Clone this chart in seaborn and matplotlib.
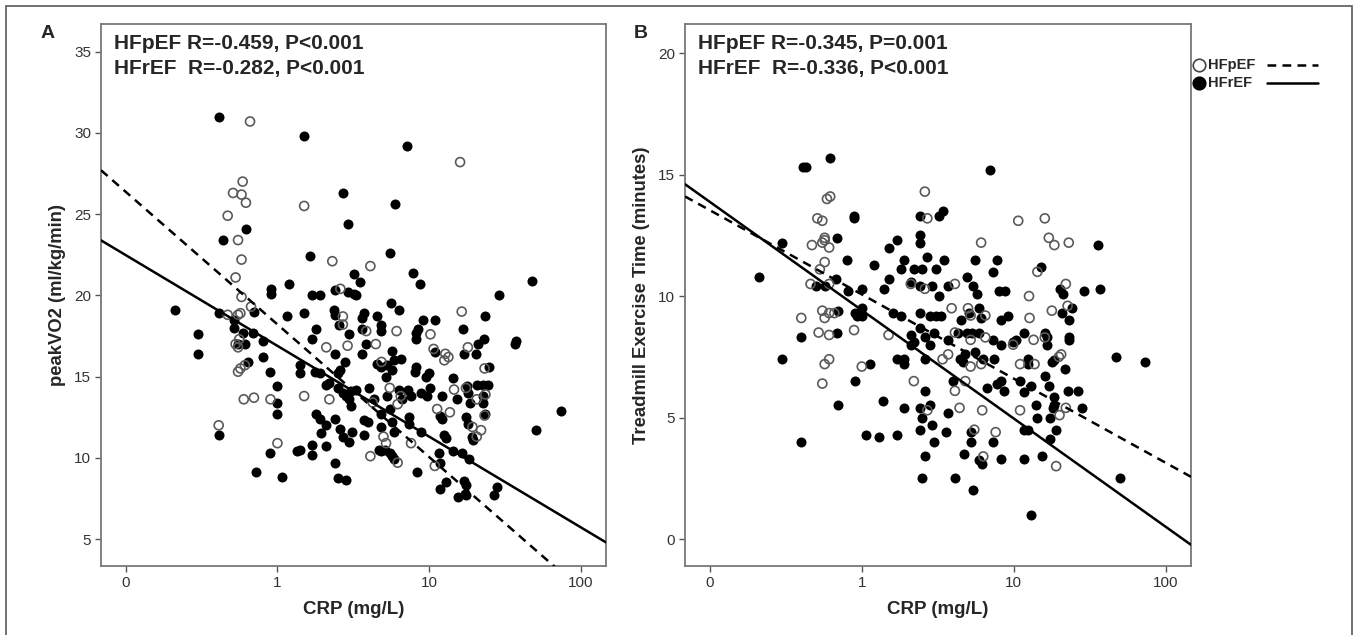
import matplotlib
matplotlib.use("Agg")
import matplotlib.pyplot as plt
from matplotlib.lines import Line2D
from matplotlib.patches import Rectangle
from matplotlib.ticker import NullLocator
import numpy as np
import pandas as pd
import seaborn as sns

# ---- panel A: peakVO2 vs CRP ----
a_ref_crp = [0.41, 1.5, 7.1, 2.7, 6.0, 2.9, 0.62, 0.44, 1.65, 5.5, 7.8, 3.2, 3.5, 8.7, 1.2, 0.91, 0.91, 1.7, 1.9, 2.4,
             2.9, 3.2, 3.3, 29, 48, 0.21, 0.41, 0.30, 0.30, 0.41, 0.52, 0.52, 0.59, 0.61, 0.69, 0.70, 0.80, 0.80, 0.90, 1.0,
             1.0, 1.0, 0.90, 0.72, 1.07, 1.15, 1.5, 1.8, 1.7, 1.4, 1.4, 1.78, 1.9, 2.1, 2.2, 1.35, 1.4, 1.7, 1.7, 1.8,
             1.9, 1.93, 2.1, 2.4, 2.4, 2.5, 2.85, 2.6, 2.7, 2.95, 2.35, 2.4, 2.55, 2.95, 2.4, 2.6, 2.5, 2.8, 2.5, 2.7,
             2.85, 2.95, 3.3, 3.05, 3.7, 3.6, 3.6, 3.85, 3.6, 4.0, 3.7, 3.95, 3.7, 4.3, 4.5, 4.85, 4.8, 4.55, 4.85, 5.2,
             5.3, 5.7, 4.85, 4.8, 4.7, 4.85, 5.1, 5.5, 5.7, 5.9, 5.25, 5.5, 5.7, 5.9, 5.7, 5.9, 6.3, 6.6, 6.5, 7.3,
             7.6, 7.4, 7.4, 8.2, 8.2, 8.5, 8.2, 8.1, 8.9, 9.7, 8.9, 8.3, 9.1, 11.0, 9.5, 10.0, 10.2, 11.0, 12.2, 11.8,
             12.2, 12.6, 13.0, 11.7, 11.8, 11.8, 13.0, 14.3, 14.3, 16.4, 15.3, 16.6, 16.9, 17.5, 18.0, 17.8, 18.0, 18.7, 18.3, 16.9,
             17.5, 17.3, 15.6, 17.5, 19.5, 19.3, 20.3, 21, 23, 23.5, 20.6, 22.8, 24.3, 22.8, 22.8, 23.5, 24.8, 26.8, 28.2, 37,
             37.5, 51, 74, 2.1, 3.05, 3.1, 0.55, 0.64, 5.6, 6.3]
a_ref_vo2 = [31.0, 29.8, 29.2, 26.3, 25.6, 24.4, 24.1, 23.4, 22.4, 22.6, 21.4, 21.3, 20.8, 20.7, 20.7, 20.4, 20.1, 20.0, 20.0, 20.3,
             20.2, 20.1, 20.0, 20.0, 20.9, 19.1, 18.9, 17.6, 16.4, 11.4, 18.5, 18.0, 17.7, 17.0, 17.7, 19.0, 17.2, 16.2, 15.3, 14.4,
             13.4, 12.7, 10.3, 9.1, 8.8, 18.7, 18.9, 17.9, 17.3, 15.7, 15.2, 15.3, 15.2, 14.5, 14.6, 10.4, 10.5, 10.8, 10.2, 12.7,
             12.4, 11.5, 10.7, 12.4, 9.7, 8.75, 8.65, 11.8, 11.3, 11.0, 19.1, 18.8, 18.2, 17.6, 16.4, 15.4, 15.2, 15.9, 14.3, 14.0,
             13.8, 13.6, 14.2, 14.1, 18.9, 18.6, 17.9, 17.0, 16.4, 14.3, 12.3, 12.2, 11.4, 13.6, 18.7, 18.2, 17.8, 15.8, 15.6, 15.0,
             15.7, 15.4, 12.7, 11.9, 10.5, 10.4, 10.5, 10.3, 10.1, 9.9, 13.8, 13.0, 12.2, 11.6, 16.6, 16.0, 14.2, 13.6, 16.1, 14.2,
             13.8, 12.5, 12.1, 17.7, 17.3, 17.9, 15.6, 15.3, 14.0, 13.8, 11.6, 9.1, 18.5, 18.5, 15.0, 15.2, 14.3, 16.5, 13.8, 12.6,
             12.4, 11.4, 11.2, 10.3, 9.7, 8.1, 8.5, 14.9, 10.4, 10.3, 13.6, 17.9, 16.4, 12.5, 12.1, 14.4, 14.0, 13.4, 9.9, 8.6,
             8.3, 7.8, 7.6, 7.7, 11.1, 11.3, 16.4, 17.0, 17.3, 18.7, 14.5, 14.5, 14.5, 13.8, 13.4, 12.7, 15.6, 7.7, 8.2, 17.0,
             17.2, 11.7, 12.9, 12.0, 13.2, 11.6, 17.0, 15.9, 19.5, 19.1]
a_pef_crp = [0.66, 16, 0.59, 0.51, 0.58, 0.62, 1.5, 0.47, 0.55, 0.58, 0.53, 2.3, 4.1, 0.58, 2.6, 0.41, 0.47, 0.55, 0.57, 0.53,
             0.55, 0.56, 0.55, 0.57, 0.61, 0.60, 0.70, 0.90, 1.0, 0.67, 1.5, 2.1, 2.2, 2.7, 2.9, 2.7, 3.85, 4.45, 4.1, 4.25,
             4.85, 5.0, 5.2, 5.5, 6.2, 6.1, 6.5, 6.2, 7.6, 10.2, 10.7, 10.9, 11.3, 13.7, 12.8, 13.4, 12.6, 14.6, 16.4, 18,
             17.5, 20.6, 19.3, 20.6, 22, 23.2, 23.5, 23.2]
a_pef_vo2 = [30.7, 28.2, 27.0, 26.3, 26.2, 25.7, 25.5, 24.9, 23.4, 22.2, 21.1, 22.1, 21.8, 19.9, 20.4, 12.0, 18.8, 18.8, 18.9, 17.0,
             16.8, 17.3, 15.3, 15.5, 15.7, 13.6, 13.7, 13.6, 10.9, 19.3, 13.8, 16.8, 13.6, 18.2, 16.9, 18.7, 17.8, 17.0, 10.1, 13.4,
             15.9, 11.3, 10.9, 14.3, 9.7, 17.8, 13.8, 13.3, 10.9, 17.6, 16.7, 9.5, 13.0, 12.8, 16.4, 16.2, 16.0, 14.2, 19.0, 16.8,
             14.3, 13.6, 11.9, 11.3, 11.7, 15.5, 13.9, 12.6]

# ---- panel B: treadmill exercise time vs CRP ----
b_ref_crp = [0.41, 0.43, 0.62, 7.0, 0.89, 0.89, 2.4, 3.2, 3.4, 0.69, 0.30, 1.5, 1.7, 2.4, 2.4, 36, 0.8, 1.2, 1.9, 1.8,
             2.2, 2.5, 2.7, 3.1, 3.5, 5.6, 7.7, 7.3, 15, 0.21, 0.68, 0.50, 0.57, 0.81, 1.0, 1.5, 1.4, 2.1, 2.4, 2.9,
             3.2, 3.7, 4.9, 5.4, 5.7, 8.0, 8.8, 20, 21, 29, 37, 0.7, 1.0, 0.9, 0.93, 1.0, 0.4, 0.69, 0.3, 1.13,
             0.9, 0.7, 0.4, 1.07, 1.3, 1.7, 1.37, 1.9, 1.7, 1.9, 1.9, 1.6, 1.8, 2.1, 2.2, 2.1, 2.4, 2.4, 2.6, 2.8,
             2.6, 2.6, 2.4, 2.5, 2.8, 2.4, 2.9, 2.6, 2.5, 3.0, 2.8, 3.1, 3.3, 3.0, 3.7, 3.7, 3.6, 4.0, 4.1, 4.5,
             4.3, 4.4, 4.6, 4.8, 4.7, 4.9, 5.3, 5.9, 5.1, 5.9, 6.1, 5.2, 5.2, 5.6, 6.3, 5.4, 5.9, 6.2, 6.7, 7.3,
             7.4, 7.7, 8.2, 8.3, 7.3, 8.3, 9.2, 8.6, 8.2, 9.9, 10.4, 11.6, 11, 11.6, 11.6, 12.4, 11.6, 12.4, 12.4, 13,
             13, 14, 14.3, 17.3, 15.3, 16, 16.5, 16.5, 16, 17, 17.3, 17.8, 18.4, 18.4, 19, 18.4, 18, 20.8, 23, 21.6,
             23, 23, 22.6, 24.3, 26.4, 28, 47, 73, 50]
b_ref_time = [15.3, 15.3, 15.7, 15.2, 13.3, 13.2, 13.3, 13.3, 13.5, 12.4, 12.2, 12.0, 12.3, 12.5, 12.2, 12.1, 11.5, 11.3, 11.5, 11.1,
              11.1, 11.1, 11.6, 11.1, 11.5, 11.5, 11.5, 11.0, 11.2, 10.8, 10.7, 10.4, 10.4, 10.2, 10.3, 10.7, 10.3, 10.6, 10.4, 10.4,
              10.0, 10.4, 10.8, 10.4, 10.1, 10.2, 10.2, 10.3, 10.1, 10.2, 10.3, 9.4, 9.5, 9.3, 9.2, 9.2, 8.3, 8.5, 7.4, 7.2,
              6.5, 5.5, 4.0, 4.3, 4.2, 4.3, 5.7, 5.4, 7.4, 7.4, 7.2, 9.3, 9.2, 8.4, 8.1, 8.0, 9.3, 8.7, 8.3, 8.0,
              7.4, 6.1, 5.4, 5.0, 5.5, 4.5, 4.7, 3.4, 2.5, 4.0, 9.2, 9.2, 9.2, 8.5, 8.2, 5.2, 4.4, 6.5, 2.5, 9.0,
              8.5, 7.4, 7.3, 7.6, 3.5, 8.5, 8.5, 8.5, 9.3, 9.5, 9.1, 4.4, 4.0, 7.7, 7.4, 2.0, 3.25, 3.1, 6.2, 4.0,
              7.4, 6.4, 6.5, 8.0, 8.2, 9.0, 9.2, 6.1, 3.3, 8.1, 8.2, 8.5, 6.5, 6.05, 4.5, 4.5, 3.3, 7.4, 7.2, 6.3,
              1.0, 5.5, 5.0, 5.0, 3.4, 8.5, 8.3, 8.0, 6.7, 6.3, 4.1, 7.3, 7.35, 5.85, 4.5, 5.5, 5.4, 9.3, 9.0, 7.0,
              8.3, 8.2, 6.1, 9.5, 6.1, 5.4, 7.5, 7.3, 2.5]
b_pef_crp = [2.6, 0.59, 0.62, 0.51, 0.55, 2.7, 10.7, 16, 0.47, 0.55, 0.61, 0.57, 0.57, 6.1, 17, 18.5, 23, 0.57, 0.53, 0.61,
             0.46, 14.3, 22, 2.1, 2.6, 4.1, 12.6, 0.4, 0.55, 0.57, 0.61, 0.66, 0.52, 0.61, 0.89, 0.61, 0.57, 0.55, 1.0, 1.5,
             2.2, 2.7, 3.4, 3.7, 3.9, 4.1, 4.4, 4.8, 4.1, 5.0, 5.2, 5.2, 5.2, 5.5, 6.2, 6.1, 6.5, 6.5, 6.3, 7.6,
             9.9, 11, 11, 12.7, 13.5, 13.7, 16, 17.8, 19, 20, 20.5, 19.8, 22, 22.6]
b_pef_time = [14.3, 14.0, 14.1, 13.2, 13.1, 13.2, 13.1, 13.2, 12.1, 12.2, 12.0, 12.4, 12.3, 12.2, 12.4, 12.1, 12.2, 11.4, 11.1, 10.5,
              10.5, 11.0, 10.5, 10.5, 10.3, 10.5, 10.0, 9.1, 9.4, 9.1, 9.3, 9.3, 8.5, 8.4, 8.6, 7.4, 7.2, 6.4, 7.1, 8.4,
              6.5, 5.3, 7.4, 7.6, 9.5, 6.1, 5.4, 6.5, 8.5, 9.5, 9.2, 8.2, 7.1, 4.5, 5.3, 7.2, 9.2, 8.3, 3.4, 4.4,
              8.0, 7.2, 5.3, 9.1, 8.2, 7.2, 8.3, 9.4, 3.0, 5.1, 7.6, 7.5, 5.4, 9.6]

# regression lines y = intercept + slope * log10(CRP), order: HFpEF, HFrEF
a_fit_intercept = [18.21, 16.89]
a_fit_slope = [-8.16, -5.585]
b_fit_intercept = [10.07, 9.42]
b_fit_slope = [-3.467, -4.459]

a_notes = ["HFpEF R=-0.459, P<0.001", "HFrEF  R=-0.282, P<0.001"]
b_notes = ["HFpEF R=-0.345, P=0.001", "HFrEF  R=-0.336, P<0.001"]

sns.set_style("white")
plt.rcParams['font.family'] = ['Liberation Sans', 'DejaVu Sans']

W, H = 1358, 635
fig = plt.figure(figsize=(W / 100, H / 100), dpi=100)
ax_a = fig.add_axes([101 / W, 1 - 566 / H, 505 / W, 542 / H])
ax_b = fig.add_axes([685 / W, 1 - 566 / H, 506 / W, 542 / H])

XLIM = (10 ** -1.163, 10 ** 2.166)


def draw_panel(ax, pef_x, pef_y, ref_x, ref_y, icpt, slope, ylim, yticks, ylabel, notes):
    ax.set_xscale('log')
    sns.scatterplot(x=ref_x, y=ref_y, ax=ax, color='black', s=52, linewidth=0, zorder=3)
    sns.scatterplot(x=pef_x, y=pef_y, ax=ax, color='white', s=42,
                    edgecolor='#5a5a5a', linewidth=1.2, zorder=4)
    ax.collections[-1].set_facecolor('none')

    styles = [(0, (3.5, 2.5)), '-']
    for a, b, ls in zip(icpt, slope, styles):
        line = pd.DataFrame({'crp': XLIM, 'y': [a + b * np.log10(v) for v in XLIM]})
        sns.lineplot(data=line, x='crp', y='y', ax=ax, color='black', lw=1.8,
                     linestyle=ls, zorder=5)

    ax.set_xlim(XLIM)
    ax.set_ylim(ylim)
    ax.set_xticks([0.1, 1, 10, 100])
    ax.set_xticklabels(['0', '1', '10', '100'])
    ax.xaxis.set_minor_locator(NullLocator())
    ax.set_yticks(yticks)
    ax.tick_params(bottom=True, left=True, direction='out', length=4, width=1,
                   color='#555555', labelsize=11, labelcolor='#333333', pad=3)
    for sp in ax.spines.values():
        sp.set_visible(True)
        sp.set_color('#777777')
        sp.set_linewidth(1.3)
    ax.set_xlabel('CRP (mg/L)', fontsize=13.5, fontweight='bold', labelpad=8)
    ax.set_ylabel(ylabel, fontsize=13.3, fontweight='bold', labelpad=6)
    ax.text(0.026, 0.964, notes[0], transform=ax.transAxes, fontsize=15,
            fontweight='bold', va='center', ha='left')
    ax.text(0.026, 0.917, notes[1], transform=ax.transAxes, fontsize=15,
            fontweight='bold', va='center', ha='left')


draw_panel(ax_a, a_pef_crp, a_pef_vo2, a_ref_crp, a_ref_vo2, a_fit_intercept, a_fit_slope,
           (3.34, 36.7), [5, 10, 15, 20, 25, 30, 35], 'peakVO2 (ml/kg/min)', a_notes)
draw_panel(ax_b, b_pef_crp, b_pef_time, b_ref_crp, b_ref_time, b_fit_intercept, b_fit_slope,
           (-1.11, 21.2), [0, 5, 10, 15, 20], 'Treadmill Exercise Time (minutes)', b_notes)

# panel letters
fig.text(48 / W, 1 - 33 / H, 'A', fontsize=14, fontweight='bold', ha='center', va='center')
fig.text(641 / W, 1 - 33 / H, 'B', fontsize=14, fontweight='bold', ha='center', va='center')

# legend (marker, label, line sample)
for yy, mfc, label, ls in [(65, 'white', 'HFpEF', (0, (3.5, 2.5))), (83, 'black', 'HFrEF', '-')]:
    yf = 1 - yy / H
    fig.add_artist(Line2D([1199 / W], [yf], marker='o', ms=9, mfc=mfc,
                          mec='#444444' if mfc == 'white' else 'black', mew=1.2,
                          transform=fig.transFigure))
    fig.text(1208 / W, yf, label, fontsize=10.5, fontweight='bold', va='center', ha='left')
    fig.add_artist(Line2D([1267 / W, 1318 / W], [yf, yf], color='black', lw=1.8,
                          linestyle=ls, transform=fig.transFigure))

# outer frame
fig.add_artist(Rectangle((6 / W, -0.05), (W - 12) / W, 1 - 6 / H + 0.05, fill=False,
                         edgecolor='#666666', lw=1.3, transform=fig.transFigure))

fig.savefig('out.png', dpi=100)
